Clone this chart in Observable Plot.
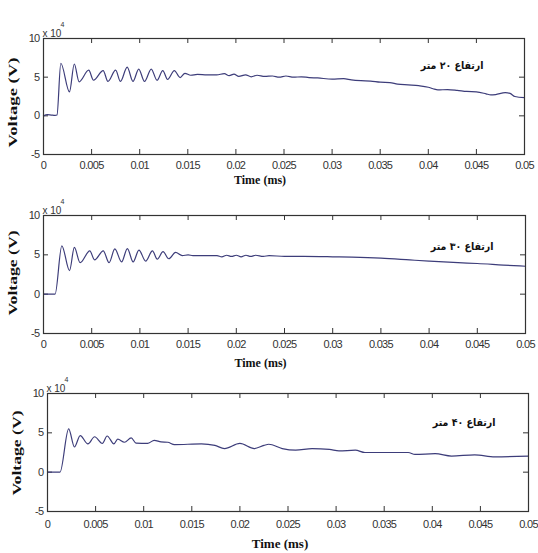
<!DOCTYPE html>
<html>
<head>
<meta charset="utf-8">
<script src="https://cdn.jsdelivr.net/npm/d3@7"></script>
<script src="https://cdn.jsdelivr.net/npm/@observablehq/plot@0.6"></script>
<style>
  html, body { margin: 0; padding: 0; background: #fff; }
  #wrap { position: relative; width: 538px; height: 553px; overflow: hidden; }
  #wrap > div { position: absolute; left: 0; }
  #wrap svg { background: transparent !important; overflow: visible; }
</style>
</head>
<body>
<div id="wrap"><div id="p1"></div><div id="p2"></div><div id="p3"></div></div>
<script>
const xTicks = [0, 0.005, 0.01, 0.015, 0.02, 0.025, 0.03, 0.035, 0.04, 0.045, 0.05];
const xTickLabels = ["0", "0.005", "0.01", "0.015", "0.02", "0.025", "0.03", "0.035", "0.04", "0.045", "0.05"];
const yTicks = [-5, 0, 5, 10];
const yTickLabels = ["-5", "0", "5", "10"];
const xLabel = "Time (ms)";
const yLabel = "Voltage (V)";
const scaleLabel = "x 10";
const scaleExp = "4";
const heightLabels = ["ارتفاع ۲۰ متر", "ارتفاع ۳۰ متر", "ارتفاع ۴۰ متر"];

// panel 1 (20 m)
const time1 = [0, 0.0004, 0.0008, 0.0012, 0.0014, 0.0018, 0.0027, 0.0032, 0.0037, 0.0047, 0.0052, 0.0062, 0.0067, 0.0075, 0.008, 0.0087, 0.0093, 0.0099, 0.0105, 0.0112, 0.0118, 0.0124, 0.0129, 0.0136, 0.0142, 0.0147, 0.0153, 0.016, 0.017, 0.018, 0.0188, 0.0193, 0.0198, 0.0203, 0.021, 0.0216, 0.0222, 0.023, 0.0238, 0.0245, 0.0252, 0.026, 0.0268, 0.0276, 0.0285, 0.030, 0.0312, 0.032, 0.033, 0.034, 0.035, 0.036, 0.0368, 0.0379, 0.039, 0.040, 0.0405, 0.041, 0.042, 0.043, 0.044, 0.045, 0.046, 0.0465, 0.047, 0.048, 0.0485, 0.049, 0.05];
const volt1 = [0.0, 0.15, 0.1, 0.05, 0.1, 6.8, 3.1, 6.7, 4.4, 5.9, 4.6, 5.85, 4.45, 5.9, 4.45, 6.3, 4.45, 6.05, 4.45, 6.05, 4.6, 5.85, 4.7, 5.85, 4.95, 5.5, 5.25, 5.35, 5.3, 5.3, 5.45, 5.2, 5.4, 5.1, 5.3, 5.05, 5.25, 5.1, 5.15, 5.0, 5.15, 5.0, 5.05, 4.95, 4.9, 4.75, 4.8, 4.65, 4.55, 4.5, 4.35, 4.3, 4.1, 4.0, 3.9, 3.7, 3.5, 3.35, 3.4, 3.3, 3.15, 3.1, 2.85, 2.7, 2.75, 3.0, 2.9, 2.5, 2.35];

// panel 2 (30 m)
const time2 = [0, 0.0012, 0.0019, 0.0027, 0.0032, 0.0038, 0.0048, 0.0053, 0.0062, 0.0068, 0.0074, 0.0081, 0.0087, 0.0093, 0.0099, 0.0106, 0.0113, 0.0118, 0.0124, 0.013, 0.0137, 0.0144, 0.015, 0.0155, 0.016, 0.017, 0.018, 0.0185, 0.019, 0.0195, 0.020, 0.0205, 0.021, 0.0215, 0.022, 0.0228, 0.0234, 0.025, 0.027, 0.030, 0.032, 0.035, 0.038, 0.040, 0.043, 0.045, 0.0477, 0.05];
const volt2 = [0, 0, 6.15, 3.0, 5.95, 4.0, 5.5, 4.35, 5.5, 4.0, 5.75, 4.1, 5.8, 4.1, 5.6, 4.2, 5.5, 4.45, 5.4, 4.5, 5.3, 4.9, 5.0, 4.9, 4.9, 4.9, 4.9, 4.75, 4.95, 4.8, 4.95, 4.75, 4.95, 4.8, 4.95, 4.8, 4.9, 4.8, 4.8, 4.75, 4.7, 4.57, 4.35, 4.2, 4.0, 3.9, 3.7, 3.55];

// panel 3 (40 m)
const time3 = [0, 0.0013, 0.0022, 0.0028, 0.0034, 0.0042, 0.0049, 0.0057, 0.0062, 0.0069, 0.0073, 0.008, 0.0087, 0.0092, 0.0104, 0.0111, 0.0118, 0.0125, 0.0132, 0.016, 0.0174, 0.0184, 0.020, 0.0215, 0.0225, 0.023, 0.0244, 0.0258, 0.0275, 0.0293, 0.0303, 0.032, 0.033, 0.0375, 0.0382, 0.0403, 0.042, 0.0444, 0.0465, 0.05];
const volt3 = [0, 0, 5.5, 3.2, 4.65, 3.6, 4.5, 3.65, 4.6, 3.6, 4.2, 3.8, 4.35, 3.7, 3.65, 4.05, 3.85, 3.8, 3.5, 3.6, 3.4, 3.0, 3.65, 3.0, 3.4, 3.55, 3.0, 2.8, 3.0, 2.9, 2.7, 2.8, 2.5, 2.5, 2.25, 2.35, 2.05, 2.2, 1.95, 2.05];

const panels = [
  {id: "p1", top: 0, height: 195, mt: 38, mb: 41, ml: 43, mr: 14, t: time1, v: volt1, lab: heightLabels[0], ldx: -41, ldy: 23, xdx: -24, xdy: 29, xfs: 12, pad: 7, vdy: -7, vlen: 90},
  {id: "p2", top: 180, height: 195, mt: 35, mb: 42, ml: 43, mr: 13, t: time2, v: volt2, lab: heightLabels[1], ldx: -32, ldy: 27, xdx: -24, xdy: 33, xfs: 12, pad: 7, vdy: -18, vlen: 85},
  {id: "p3", top: 360, height: 193, mt: 33, mb: 42, ml: 47, mr: 10, t: time3, v: volt3, lab: heightLabels[2], ldx: -33, ldy: 25, xdx: -8, xdy: 36, xfs: 13, pad: 9, vdy: -16, vlen: 85}
];

const ink = "#333";
const tickFont = "'Liberation Sans', Arial, sans-serif";
const serif = "'Liberation Serif', 'Times New Roman', serif";

for (const p of panels) {
  const pw = 538 - p.ml - p.mr;
  const ph = p.height - p.mt - p.mb;
  const data = p.t.map((t, i) => ({t, v: p.v[i]}));
  const chart = Plot.plot({
    width: 538,
    height: p.height,
    marginTop: p.mt,
    marginBottom: p.mb,
    marginLeft: p.ml,
    marginRight: p.mr,
    style: {background: "transparent", color: ink, fontFamily: tickFont, fontSize: "11px", overflow: "visible"},
    x: {domain: [0, 0.05], label: null},
    y: {domain: [-5, 10], label: null},
    marks: [
      Plot.axisX(xTicks, {tickSize: 0, tickPadding: p.pad, tickFormat: (d, i) => xTickLabels[i], fill: ink, fontSize: 11, label: null}),
      Plot.axisY(yTicks, {tickSize: 0, tickPadding: 4, tickFormat: (d, i) => yTickLabels[i], fill: ink, fontSize: 11, label: null}),
      Plot.ruleX(xTicks, {x: d => d, insetTop: ph - 5, stroke: ink}),
      Plot.ruleX(xTicks, {x: d => d, insetBottom: ph - 5, stroke: ink}),
      Plot.ruleY(yTicks, {y: d => d, insetRight: pw - 5, stroke: ink}),
      Plot.ruleY(yTicks, {y: d => d, insetLeft: pw - 5, stroke: ink}),
      Plot.line(data, {x: "t", y: "v", stroke: "#3d3d7a", strokeWidth: 1.2, curve: "monotone-x"}),
      Plot.frame({stroke: ink, strokeWidth: 1.2}),
      Plot.text([p.lab], {text: d => d, frameAnchor: "top-right", dx: p.ldx, dy: p.ldy, textAnchor: "end", fontSize: 10.5, fontWeight: "bold", fill: "#111", fontFamily: "'DejaVu Sans Condensed', 'DejaVu Sans', sans-serif"}),
      Plot.text([xLabel], {text: d => d, frameAnchor: "bottom", dx: p.xdx, dy: p.xdy, fontSize: p.xfs, fontWeight: "bold", fill: "#111", fontFamily: serif}),
      Plot.text([yLabel], {text: d => d, frameAnchor: "bottom-left", rotate: -90, textAnchor: "start", dx: -27, dy: p.vdy, fontSize: 13, fontWeight: "bold", fill: "#111", fontFamily: serif}),
      Plot.text([scaleLabel], {text: d => d, frameAnchor: "top-left", dx: -1, dy: -9, textAnchor: "start", fontSize: 10, fill: ink, fontFamily: tickFont}),
      Plot.text([scaleExp], {text: d => d, frameAnchor: "top-left", dx: 17, dy: -16, textAnchor: "start", fontSize: 7, fill: ink, fontFamily: tickFont})
    ]
  });
  const holder = document.getElementById(p.id);
  holder.style.top = p.top + "px";
  holder.appendChild(chart);
  d3.select(chart).selectAll("text").filter(function () { return this.textContent === yLabel; })
    .attr("textLength", p.vlen).attr("lengthAdjust", "spacingAndGlyphs");
  d3.select(chart).selectAll('g[aria-label="x-axis tick label"] text, g[aria-label="y-axis tick label"] text')
    .style("letter-spacing", "-0.7px");
}
</script>
</body>
</html>
